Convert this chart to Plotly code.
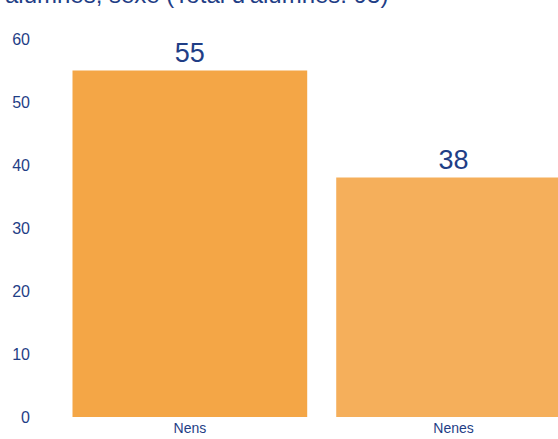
import plotly.graph_objects as go

categories = ["Nens", "Nenes"]
values = [55, 38]
bar_colors = ["#F4A646", "#F5AF5B"]
title_text = "Nombre d'alumnes, sexe (Total d'alumnes: 93)"

navy = "#1F3E86"
font_family = "Liberation Sans, Arial, sans-serif"

fig = go.Figure(
    go.Bar(
        x=categories,
        y=values,
        marker=dict(color=bar_colors, line=dict(width=0)),
        text=[str(v) for v in values],
        textposition="outside",
        textfont=dict(size=27, color=navy, family=font_family),
        cliponaxis=False,
    )
)

fig.update_layout(
    width=558,
    height=439,
    margin=dict(l=57.5, r=0, t=39, b=22.3, pad=0),
    paper_bgcolor="white",
    plot_bgcolor="white",
    bargap=0.11,
    showlegend=False,
    font=dict(family=font_family, color=navy),
    xaxis=dict(
        range=[-0.5, 1.396],
        showgrid=False,
        zeroline=False,
        showline=False,
        ticks="",
        tickfont=dict(size=14, color=navy),
        ticklabelstandoff=1,
    ),
    yaxis=dict(
        range=[0, 60],
        tickvals=[0, 10, 20, 30, 40, 50, 60],
        showgrid=False,
        zeroline=False,
        showline=False,
        ticks="",
        tickfont=dict(size=16, color=navy),
        ticklabelstandoff=27,
    ),
    annotations=[
        dict(
            text=title_text,
            xref="paper",
            yref="paper",
            x=(390 - 57.5) / (558 - 57.5),
            y=1.118,
            xanchor="right",
            yanchor="middle",
            showarrow=False,
            font=dict(size=24, color=navy, family=font_family),
        )
    ],
)

fig.write_html(
    "out.html",
    config={"displayModeBar": False},
    post_script="document.body.style.margin='0';document.body.style.overflow='hidden';",
)
